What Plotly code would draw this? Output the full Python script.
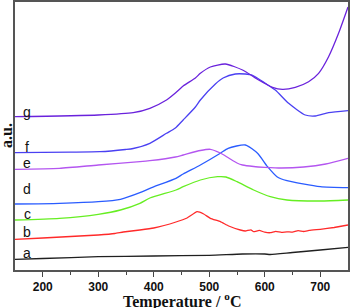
import plotly.graph_objects as go

# Temperature (°C) and intensity (a.u.) for each curve
a_T = [150, 200, 300, 400, 500, 560, 600, 610, 650, 700, 750]
a_y = [10.7, 11.5, 13.3, 14.0, 14.7, 16.0, 16.0, 15.5, 17.5, 20.0, 22.7]

b_T = [150, 200, 250, 300, 330, 345, 375, 400, 440, 460, 478, 490, 502, 520, 535, 556,
       565, 575, 580, 590, 600, 610, 620, 630, 640, 650, 660, 670, 680, 700, 725, 750]
b_y = [30.7, 32.0, 33.5, 35.0, 36.5, 38.0, 40.0, 42.0, 48.0, 52.0, 58.3, 56.0, 51.7, 48.3, 44.0, 40.0,
       39.0, 40.2, 38.3, 39.6, 37.8, 37.3, 38.6, 37.6, 38.2, 37.9, 39.3, 38.5, 39.6, 40.7, 42.5, 45.0]

c_T = [150, 230, 300, 340, 375, 393, 440, 453, 484, 515, 530, 550, 580, 610, 640, 700, 750]
c_y = [50.0, 51.7, 55.7, 60.0, 66.7, 72.0, 80.0, 83.3, 90.0, 93.3, 93.0, 88.3, 80.0, 73.3, 70.0, 69.0, 70.0]

d_T = [150, 230, 300, 340, 375, 393, 440, 453, 484, 520, 534, 565, 587, 605, 622, 640, 700, 750]
d_y = [66.0, 66.7, 68.3, 70.7, 77.3, 81.7, 91.7, 96.0, 105.0, 116.7, 121.7, 125.0, 116.7, 103.3, 93.3, 89.3, 83.3, 82.3]

e_T = [150, 230, 300, 375, 393, 439, 453, 484, 502, 520, 535, 550, 560, 580, 600, 630, 670, 710, 750]
e_y = [100.7, 101.7, 105.0, 108.3, 109.3, 113.0, 115.0, 119.5, 120.7, 117.0, 112.0, 107.0, 105.0, 103.5, 102.7, 102.0, 103.0, 106.0, 111.7]

f_T = [150, 250, 303, 349, 363, 393, 423, 439, 453, 475, 484, 511, 525, 547, 565, 577, 601, 619, 643, 673, 691, 715, 750]
f_y = [117.3, 117.8, 118.3, 120.5, 121.5, 126.7, 136.7, 142.0, 150.0, 163.0, 170.0, 186.0, 192.0, 196.0, 196.0, 195.0, 186.7, 180.0, 166.7, 155.0, 154.0, 157.3, 159.3]

g_T = [150, 300, 363, 393, 423, 439, 453, 475, 484, 502, 529, 560, 589, 614, 632, 655, 679, 697, 715, 733, 750]
g_y = [153.3, 155.0, 157.3, 161.7, 170.0, 177.0, 184.0, 192.0, 196.7, 203.0, 206.0, 200.0, 190.0, 182.7, 180.7, 182.7, 188.3, 196.7, 213.3, 236.7, 263.0]

labels = ["a", "b", "c", "d", "e", "f", "g"]
series_T = [a_T, b_T, c_T, d_T, e_T, f_T, g_T]
series_y = [a_y, b_y, c_y, d_y, e_y, f_y, g_y]

x_title = "Temperature / <sup>o</sup>C"
y_title = "a.u."

colors = ["#202020", "#ff2a2a", "#66ee22", "#2a5cff", "#b456f0", "#4a40f2", "#6a22dc"]
label_shift = [6, 7, 6, 15, 6, 6, 5]

fig = go.Figure()
for lab, T, y, col in zip(labels, series_T, series_y, colors):
    fig.add_trace(go.Scatter(
        x=T, y=y, mode="lines", name=lab,
        line=dict(color=col, width=1.3, shape="spline", smoothing=0.6 if lab != "b" else 0.3),
        showlegend=False, hoverinfo="skip"))

for lab, y, sh in zip(labels, series_y, label_shift):
    fig.add_annotation(x=172, y=y[0] + sh, text=lab, showarrow=False,
                       font=dict(family="Liberation Sans, Arial", size=14, color="#111"),
                       xanchor="center", yanchor="middle")

title_font = dict(family="Liberation Serif, Times New Roman", size=16, color="#111", weight="bold")
fig.add_annotation(xref="paper", yref="paper", x=0.5, y=0, yshift=-30,
                   text=x_title, showarrow=False, font=title_font,
                   xanchor="center", yanchor="middle")
fig.add_annotation(xref="paper", yref="paper", x=0, y=0.5, xshift=-9,
                   text=y_title, textangle=-90, showarrow=False, font=title_font,
                   xanchor="center", yanchor="middle")

fig.update_layout(
    width=350, height=308,
    margin=dict(l=15, r=2, t=2, b=38),
    paper_bgcolor="white", plot_bgcolor="white",
    xaxis=dict(
        range=[150, 750], tickmode="array", tickvals=[200, 300, 400, 500, 600, 700],
        ticks="outside", ticklen=5, tickwidth=1.2, tickcolor="#444",
        minor=dict(tickvals=[250, 350, 450, 550, 650], ticks="outside", ticklen=3, tickcolor="#444"),
        showline=True, linecolor="#555", linewidth=1.5, mirror=True,
        showgrid=False, zeroline=False, automargin=False,
        tickfont=dict(family="Liberation Sans, Arial", size=12, color="#111", weight="bold"),
    ),
    yaxis=dict(
        range=[0, 268], showticklabels=False, ticks="",
        showline=True, linecolor="#555", linewidth=1.5, mirror=True,
        showgrid=False, zeroline=False, automargin=False,
    ),
)

fig.write_html("out.html", config={"displayModeBar": False},
               post_script="document.body.style.margin='0';document.body.style.padding='0';")
